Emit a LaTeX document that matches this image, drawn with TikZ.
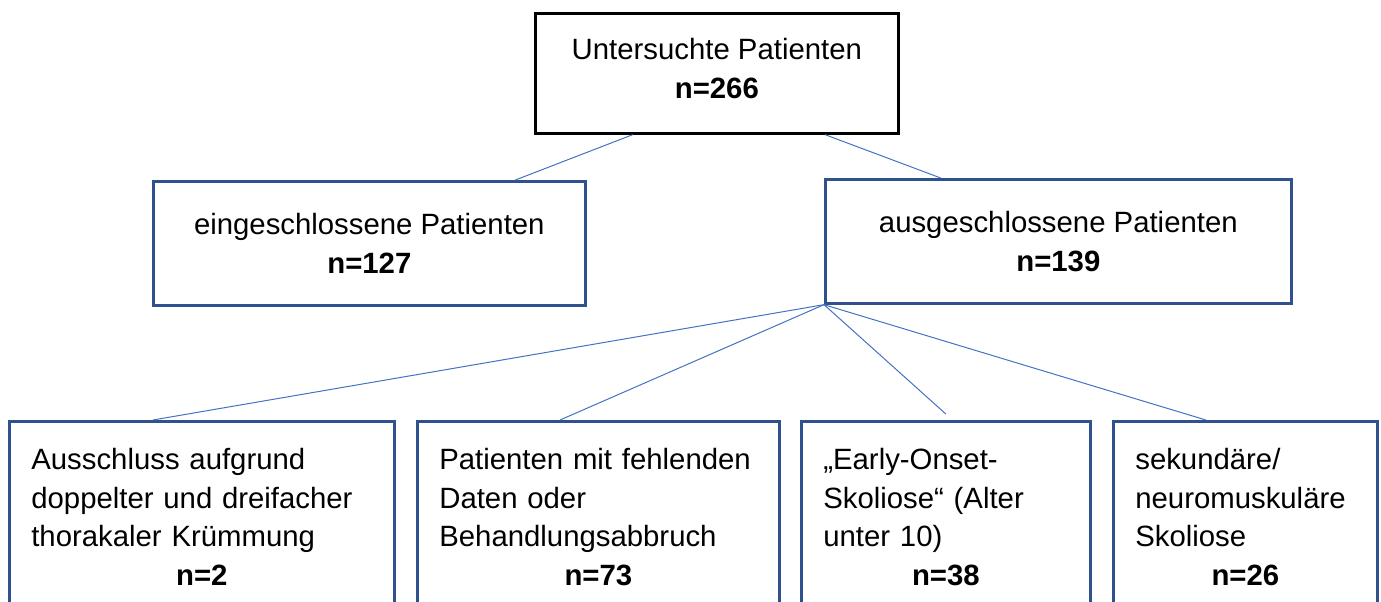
\documentclass[tikz,border=0pt]{standalone}
\usepackage{fontspec}
\setmainfont{Liberation Sans}
\usepackage{tikz}
\usetikzlibrary{positioning,calc}
\definecolor{boxblue}{HTML}{2F528F}
\definecolor{lineblue}{HTML}{4472C4}
\tikzstyle{line} = [draw=lineblue, line width=0.75pt]
\tikzstyle{headbox} = [draw, line width=2pt, anchor=north west, align=center, inner sep=0pt, font=\fontsize{22}{29}\selectfont]
\tikzstyle{groupbox} = [headbox, draw=boxblue]
\tikzstyle{reasonbox} = [draw=boxblue, line width=2pt, anchor=north west, align=left, inner xsep=16.5pt, inner ysep=0pt, text height=36pt, text depth=150pt, font=\fontsize{22}{29}\selectfont]

\begin{document}
\begin{tikzpicture}[x=0.75pt,y=-0.75pt]
		\useasboundingbox (0,0) rectangle (1381,602);
		\clip (0,0) rectangle (1381,602);
		% obere Ebenen
		\node[headbox, minimum width=272.25pt, minimum height=90pt] (all) at (534,12) {Untersuchte Patienten\\\textbf{n=266}\rule[-7.5pt]{0pt}{7.5pt}};
		\node[groupbox, minimum width=324pt, minimum height=93pt] (incl) at (152,180) {eingeschlossene Patienten\\\textbf{n=127}};
		\node[groupbox, minimum width=349.5pt, minimum height=93pt] (excl) at (824,178) {ausgeschlossene Patienten\\\textbf{n=139}};
		% Ausschlussgruende
		\node[reasonbox, text width=255.75pt] (r1) at (8,420) {Ausschluss aufgrund\\doppelter und dreifacher\\thorakaler Krümmung\\\makebox[\linewidth]{\textbf{n=2}}};
		\node[reasonbox, text width=238.5pt] (r2) at (416,420) {Patienten mit fehlenden\\Daten oder\\Behandlungsabbruch\\\makebox[\linewidth]{\textbf{n=73}}};
		\node[reasonbox, text width=183.75pt] (r3) at (800,420) {„Early-Onset-\\Skoliose“ (Alter\\unter 10)\\\makebox[\linewidth]{\textbf{n=38}}};
		\node[reasonbox, text width=165pt] (r4) at (1112,420) {sekundäre/\\neuromuskuläre\\Skoliose\\\makebox[\linewidth]{\textbf{n=26}}};
		\draw[line] ($(all.south west)!0.27!(all.south east)$) -- ($(incl.north west)!0.836!(incl.north east)$);
		\draw[line] ($(all.south west)!0.796!(all.south east)$) -- ($(excl.north west)!0.249!(excl.north east)$);
		\draw[line] (excl.south west) -- ($(r1.north west)!0.374!(r1.north east)$);
		\draw[line] (excl.south west) -- ($(r2.north west)!0.395!(r2.north east)$);
		\draw[line] (excl.south west) -- ([yshift=4.5pt]r3.north);
		\draw[line] (excl.south west) -- ($(r4.north west)!0.352!(r4.north east)$);
\end{tikzpicture}
\end{document}
